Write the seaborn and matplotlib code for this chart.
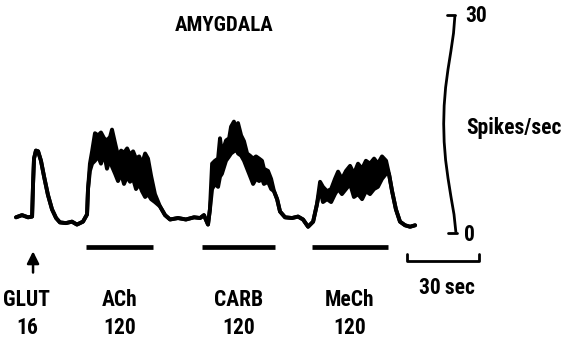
import numpy as np
import seaborn as sns
import matplotlib.pyplot as plt
import pandas as pd
from matplotlib import font_manager as fm

# firing rate trace (seconds, spikes/sec); hi/lo = envelope of the noisy record
t_sec = [
    0.0, 2.5, 5.0, 6.7, 7.1, 7.5, 8.3, 9.2, 10.4, 11.7, 13.3, 15.0, 16.7, 18.3, 20.8, 23.3, 25.4, 27.9, 29.6, 30.0,
    30.8, 31.7, 32.9, 34.2, 35.4, 36.7, 37.9, 39.2, 40.0, 41.3, 42.5, 43.8, 45.0, 46.3, 47.5, 48.8, 50.0, 51.3, 52.5,
    53.8, 55.0, 56.3, 57.9,
    60.0, 62.1, 64.2, 67.5, 70.8, 74.2, 76.7, 78.3, 80.0, 80.8,
    81.7, 82.9, 84.2, 85.0, 85.8, 87.5, 88.8, 89.6, 90.8, 91.7, 92.5, 93.8, 95.0, 96.3, 97.5, 98.8, 100.0, 101.3,
    102.5, 103.3, 105.0, 106.3, 107.5, 108.8,
    110.0, 112.1, 115.0, 117.5, 119.6, 121.7, 123.8, 125.4,
    126.7, 127.9, 129.6, 131.3, 132.9, 134.2, 135.8, 137.5, 139.2, 140.8, 142.5, 144.2, 145.8, 147.5, 149.2, 150.8,
    152.5, 154.2,
    155.4, 156.7, 158.3, 160.0, 162.1, 164.2, 166.3,
]
rate_hi = [
    2.1, 2.4, 2.1, 2.2, 6.7, 10.2, 11.3, 11.2, 9.9, 7.7, 5.2, 3.2, 2.0, 1.4, 1.3, 1.5, 1.1, 1.5, 2.5, 6.0,
    9.5, 11.2, 13.7, 13.4, 13.8, 13.0, 12.7, 13.2, 14.2, 12.3, 10.6, 11.3, 11.0, 11.6, 10.7, 11.2, 10.2, 10.5, 9.5,
    10.9, 10.2, 7.8, 5.3,
    3.6, 2.4, 1.8, 2.0, 1.8, 2.1, 2.0, 2.4, 1.1, 3.2,
    9.5, 9.9, 10.2, 13.0, 10.9, 12.7, 13.0, 14.6, 15.3, 14.0, 15.1, 13.4, 12.6, 10.9, 10.6, 10.2, 10.5, 10.2,
    9.9, 8.8, 8.5, 7.4, 5.7, 4.6,
    2.9, 2.1, 2.0, 2.2, 1.8, 0.8, 1.5, 3.9,
    7.0, 6.3, 5.7, 6.0, 7.4, 8.4, 7.4, 8.5, 9.2, 8.1, 9.5, 8.8, 9.9, 9.5, 10.2, 9.5,
    10.5, 9.9,
    8.1, 5.7, 3.2, 1.5, 1.0, 0.8, 1.0,
]
rate_lo = [
    2.1, 2.4, 2.1, 2.2, 6.7, 10.2, 11.3, 11.2, 9.9, 7.7, 5.2, 3.2, 2.0, 1.4, 1.3, 1.5, 1.1, 1.5, 2.5, 6.0,
    8.5, 9.5, 9.9, 10.5, 9.5, 10.9, 8.8, 10.2, 9.1, 8.1, 7.1, 8.1, 6.7, 7.7, 7.0, 7.4, 6.0, 6.7, 5.7,
    4.9, 5.3, 4.6, 4.2,
    3.6, 2.4, 1.8, 2.0, 1.8, 2.1, 2.0, 2.4, 1.1, 3.2,
    6.0, 6.7, 6.3, 7.7, 8.1, 9.9, 10.5, 10.9, 11.2, 11.6, 10.9, 10.6, 9.9, 8.8, 7.8, 6.7, 7.4, 7.1,
    7.4, 6.7, 7.0, 6.0, 5.7, 4.6,
    2.9, 2.1, 2.0, 2.2, 1.8, 0.8, 1.5, 3.9,
    6.0, 4.2, 4.6, 4.2, 5.3, 6.0, 5.3, 6.0, 6.7, 4.9, 5.3, 4.6, 5.7, 5.3, 6.0, 6.3,
    7.4, 8.1,
    8.1, 5.7, 3.2, 1.5, 1.0, 0.8, 1.0,
]

# drug applications (start, end in sec)
drugs = ["ACh", "CARB", "MeCh"]
drug_doses = ["120", "120", "120"]
drug_start = [29.2, 77.5, 123.3]
drug_end = [57.1, 107.9, 155.0]
glut_time = 7.1

trace = pd.DataFrame({"t": t_sec, "hi": rate_hi, "lo": rate_lo})

sns.set_style("white")
# pick a narrow face if one is around, otherwise Roboto
have = {f.name for f in fm.fontManager.ttflist}
face = "Roboto"
for cand in ["Liberation Sans Narrow", "Roboto Condensed", "Open Sans Condensed"]:
    if cand in have:
        face = cand
        break
plt.rcParams["font.family"] = [face, "DejaVu Sans"]
plt.rcParams["font.weight"] = "bold"
plt.rcParams["text.color"] = "black"

fig = plt.figure(figsize=(5.77, 3.5), dpi=100)
ax = fig.add_axes([0, 0, 1, 1])
ax.set_xlim(-6.67, 233.75)
ax.set_ylim(-16.2, 32.07)
ax.axis("off")

ax.fill_between(trace["t"], trace["lo"], trace["hi"], color="black", lw=0)
sns.lineplot(data=trace, x="t", y="hi", color="black", lw=2.8, ax=ax)
sns.lineplot(data=trace, x="t", y="lo", color="black", lw=2.8, ax=ax)

# drug bars
ax.hlines([-2.0] * len(drugs), drug_start, drug_end, color="black", lw=3.4)

# glutamate arrow
ax.annotate("", xy=(glut_time, -2.2), xytext=(glut_time, -5.9),
            arrowprops=dict(arrowstyle="-|>", color="black", lw=1.8, mutation_scale=18))

fs = 15.5
ax.text(4.3, -9.3, "GLUT", ha="center", va="center", fontsize=fs)
ax.text(4.6, -13.2, "16", ha="center", va="center", fontsize=fs)
for name, dose, s, e in zip(drugs, drug_doses, drug_start, drug_end):
    mid = (s + e) / 2
    ax.text(mid, -9.3, name, ha="center", va="center", fontsize=fs)
    ax.text(mid, -13.2, dose, ha="center", va="center", fontsize=fs)

ax.text(86.7, 28.6, "AMYGDALA", ha="center", va="center", fontsize=15)

# spikes/sec scale bar (slightly bowed, as in the scan)
bar_t = [182.9, 182.3, 181.2, 180.0, 179.0, 178.4, 178.2, 178.4, 179.0, 180.0, 181.2, 182.5, 183.3]
bar_r = [30.0, 27.5, 25.0, 22.5, 20.0, 17.5, 15.0, 12.5, 10.0, 7.5, 5.0, 2.5, 0.0]
ax.plot(bar_t, bar_r, color="black", lw=2.0, solid_capstyle="butt")
ax.plot([179.4, 183.0], [30, 30], color="black", lw=2.0)
ax.plot([179.8, 183.6], [0, 0], color="black", lw=2.0)
ax.text(187.3, 29.8, "30", ha="left", va="center", fontsize=fs)
ax.text(186.6, -0.4, "0", ha="left", va="center", fontsize=fs)
ax.text(187.8, 14.4, "Spikes/sec", ha="left", va="center", fontsize=fs)

# 30 sec time bar
ax.plot([162.9, 162.9, 192.9, 192.9], [-3.0, -3.9, -3.9, -3.0], color="black", lw=2.0)
ax.text(179.6, -7.7, "30\u2009sec", ha="center", va="center", fontsize=fs)

fig.savefig("out.png", dpi=100)
